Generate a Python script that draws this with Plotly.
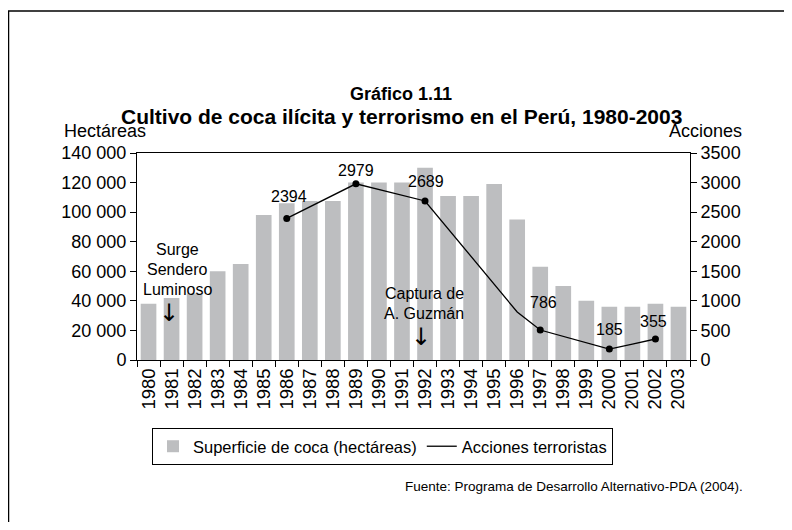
import plotly.graph_objects as go

# datos
anios = [str(a) for a in range(1980, 2004)]
coca_ha = [38000, 42000, 45000, 60000, 65000, 98000, 106000, 107500, 107500, 120000,
           120000, 120000, 130000, 111000, 111000, 119000, 95000, 63000, 50000, 40000,
           36000, 36000, 38000, 36000]
# acciones terroristas (solo años con vértice en la línea)
acciones = [None, None, None, None, None, None, 2394, None, None, 2979,
            None, None, 2689, None, None, None, 812, 507, None, None,
            185, 270, 355, None]
puntos_anios = ['1986', '1989', '1992', '1997', '2000', '2002']
puntos_valores = [2394, 2979, 2689, 507, 185, 355]
puntos_etiquetas = ['2394', '2979', '2689', '786', '185', '355']

FONT = 'Liberation Sans, Arial, sans-serif'
OFF = 8  # margen del body de la página
W, H = 792 - 2 * OFF, 530 - 2 * OFF
L, R, T, B = 137 - OFF, W - (690 - OFF), 153 - OFF, H - (360 - OFF)
PW, PH = W - L - R, H - T - B


def px_x(x):
    return (x - OFF - L) / PW


def px_y(y):
    return (H - B - (y - OFF)) / PH


fig = go.Figure()

fig.add_trace(go.Bar(
    x=anios, y=coca_ha, name='Superficie de coca (hectáreas)',
    marker=dict(color='#bdbec0', line=dict(width=0)), width=0.68,
))
fig.add_trace(go.Scatter(
    x=anios, y=acciones, name='Acciones terroristas', yaxis='y2',
    mode='lines', connectgaps=True, line=dict(color='black', width=1.3),
))
fig.add_trace(go.Scatter(
    x=puntos_anios, y=puntos_valores, yaxis='y2', mode='markers',
    marker=dict(color='black', size=7), showlegend=False,
))

# etiquetas de la línea
desplaz = [(2, 22), (0, 13), (1, 19), (3, 28), (0, 20), (-2, 18)]
anots = []
for a, v, t, (dx, dy) in zip(puntos_anios, puntos_valores, puntos_etiquetas, desplaz):
    anots.append(dict(x=anios.index(a), y=v, xref='x', yref='y2', text=t, showarrow=False,
                      xshift=dx, yshift=dy, font=dict(size=16)))

textos = [
    ('<b>Gráfico 1.11</b>', 401, 94, 18, 'center'),
    ('<b>Cultivo de coca ilícita y terrorismo en el Perú, 1980-2003</b>', 401, 117, 21, 'center'),
    ('Hectáreas', 62, 131, 18, 'left'),
    ('Acciones', 744, 131, 18, 'right'),
    ('Surge', 177, 249, 16, 'center'),
    ('Sendero', 177, 269, 16, 'center'),
    ('Luminoso', 177, 289, 16, 'center'),
    ('Captura de', 424, 293, 16, 'center'),
    ('A. Guzmán', 424, 313, 16, 'center'),
    ('Fuente: Programa de Desarrollo Alternativo-PDA (2004).', 745, 486, 13.5, 'right'),
]
for t, x, y, s, anc in textos:
    anots.append(dict(x=px_x(x), y=px_y(y), xref='paper', yref='paper', text=t,
                      showarrow=False, xanchor=anc, yanchor='middle', font=dict(size=s)))

# flechas
for x, y in [(169, 313), (421, 337)]:
    anots.append(dict(x=px_x(x), y=px_y(y), xref='paper', yref='paper', text='↓',
                      showarrow=False, xanchor='center', yanchor='middle',
                      font=dict(size=24, family='DejaVu Sans')))

# marco exterior (borde superior e izquierdo)
marco = dict(color='black', width=1.5)
shapes = [
    dict(type='line', xref='paper', yref='paper', x0=px_x(7.5), x1=px_x(790),
         y0=px_y(11), y1=px_y(11), line=marco),
    dict(type='line', xref='paper', yref='paper', x0=px_x(8.5), x1=px_x(8.5),
         y0=px_y(11), y1=px_y(528), line=marco),
]

fig.update_layout(
    template='none',
    width=W, height=H,
    margin=dict(l=L, r=R, t=T, b=B, autoexpand=False),
    paper_bgcolor='white', plot_bgcolor='white',
    font=dict(family=FONT, size=16, color='black'),
    separators=', ',
    bargap=0.32,
    showlegend=True,
    legend=dict(orientation='h', x=px_x(152), y=px_y(428), xanchor='left', yanchor='top',
                bordercolor='black', borderwidth=1, font=dict(size=16.5),
                itemwidth=30, bgcolor='white'),
    xaxis=dict(type='category', range=[-0.5, 23.5], tickson='boundaries',
               ticks='outside', ticklen=6, tickangle=-90, showline=True, mirror=True,
               linecolor='black', linewidth=1, tickcolor='black', showgrid=False,
               automargin=False, tickfont=dict(size=18.5)),
    yaxis=dict(range=[0, 140000], dtick=20000, tickformat=',d', ticks='outside',
               ticklen=6, showline=True, linecolor='black', tickcolor='black',
               showgrid=False, zeroline=False, automargin=False, tickfont=dict(size=18)),
    yaxis2=dict(range=[0, 3500], dtick=500, overlaying='y', side='right',
                ticks='outside', ticklen=6, showline=True, linecolor='black',
                tickcolor='black', showgrid=False, zeroline=False, automargin=False,
                tickfont=dict(size=18)),
    annotations=anots,
    shapes=shapes,
)

fig.write_html("out.html")
